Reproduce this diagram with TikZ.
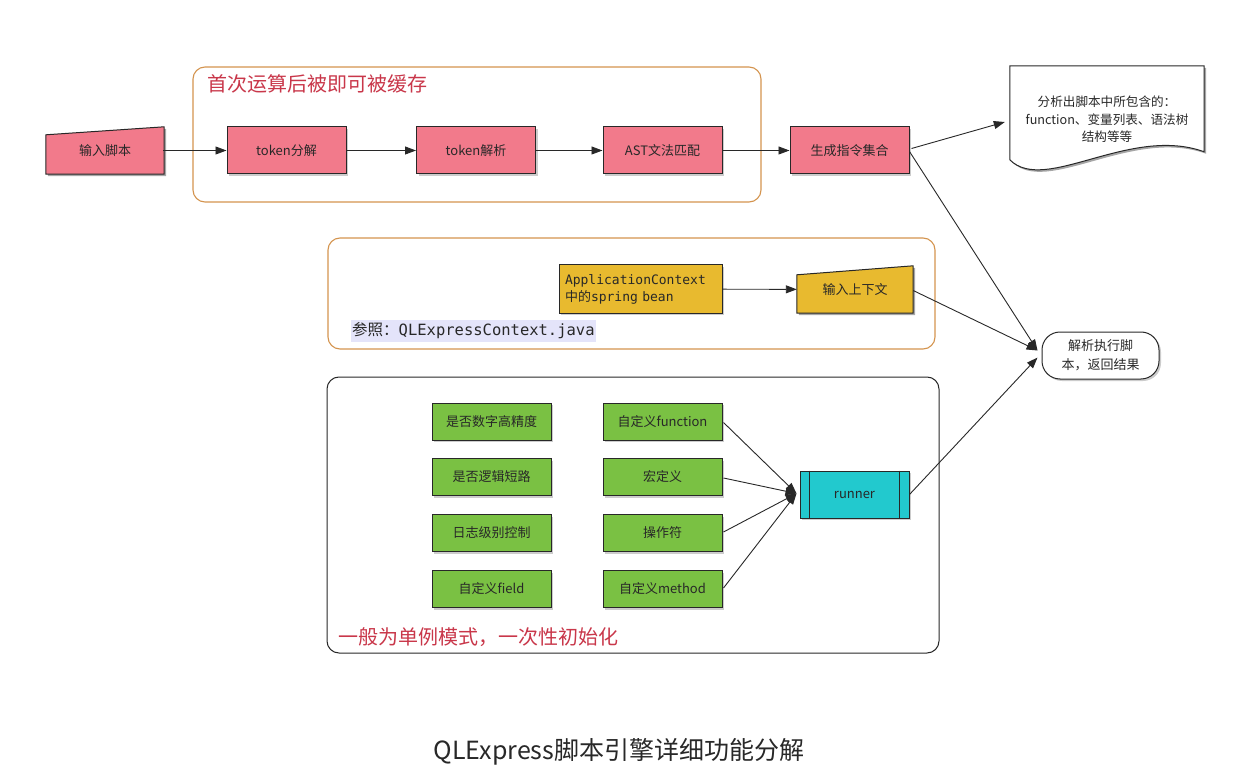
\documentclass[tikz,border=0pt]{standalone}
\usepackage{fontspec}
\setmainfont{Noto Sans CJK SC}
\newfontfamily\monofont{DejaVu Sans Mono}
\usetikzlibrary{arrows.meta,shadows,backgrounds,calc}
\definecolor{pinkc}{RGB}{242,122,139}
\definecolor{greenc}{RGB}{122,193,67}
\definecolor{yellowc}{RGB}{232,186,47}
\definecolor{cyanc}{RGB}{34,201,206}
\definecolor{orangec}{RGB}{212,148,79}
\definecolor{redc}{RGB}{201,55,74}
\definecolor{lavc}{RGB}{228,228,250}
\definecolor{inkc}{RGB}{40,40,40}
\begin{document}
\begin{tikzpicture}[x=1pt,y=-1pt,
  base/.style={draw=inkc,line width=1pt,inner sep=0pt,align=center,
    font=\fontsize{13}{16}\selectfont,text=inkc},
  sh/.style={drop shadow={shadow xshift=2pt,shadow yshift=-2pt,opacity=.4}},
  pinkbox/.style={base,sh,fill=pinkc,minimum width=119pt,minimum height=47pt},
  pinktext/.style={inner sep=0pt,align=center,font=\fontsize{13}{16}\selectfont,
    text=inkc,minimum width=118pt,minimum height=47pt},
  greenbox/.style={base,sh,fill=greenc,minimum width=119pt,minimum height=37pt},
  yellowbox/.style={base,sh,fill=yellowc,minimum height=48pt},
  arr/.style={-{Triangle[length=11pt,width=8pt]},line width=0.9pt,draw=inkc},
  frame/.style={draw=orangec,line width=1.1pt,rounded corners=12pt,inner sep=0pt},
  redtitle/.style={text=redc,font=\fontsize{20}{24}\selectfont,anchor=west,inner sep=0pt}
]
\useasboundingbox (0,0) rectangle (1248,778);

% frames
\node[frame,minimum width=568pt,minimum height=135pt] (topframe) at (477,134.5) {};
\node[frame,minimum width=607pt,minimum height=111pt] (midframe) at (631.5,293.5) {};
\node[frame,draw=inkc,line width=1pt,minimum width=612pt,minimum height=276pt] (botframe) at (633,515) {};

\node[redtitle] (toptitle) at (207,84) {首次运算后被即可被缓存};
\node[redtitle] (bottitle) at (338,637) {一般为单例模式，一次性初始化};

% top row
\node[pinktext] (in) at (105,150.5) {输入脚本};
\node[pinkbox] (t1) at (286.5,150.5) {token分解};
\node[pinkbox] (t2) at (476,150.5) {token解析};
\node[pinkbox] (t3) at (662.5,150.5) {AST文法匹配};
\node[pinkbox] (t4) at (849.5,150.5) {生成指令集合};

% document
\node[inner sep=0pt,minimum width=194pt,minimum height=94pt] (doc) at (1107,113) {};
\node[align=center,inner sep=0pt,text=inkc,font=\fontsize{12.6}{17.5}\selectfont] (doctext) at (1107,119.5)
  {分析出脚本中所包含的：\\function、变量列表、语法树\\结构等等};

% middle
\node[yellowbox,align=left,text width=151pt,inner xsep=6pt,font=\fontsize{13}{17}\selectfont] (appctx) at (640.5,289)
  {{\monofont ApplicationContext}\\中的{\monofont spring bean}};
\node[pinktext,minimum width=116pt] (ctxin) at (855,289.5) {输入上下文};
\node[anchor=west,fill=lavc,inner xsep=1pt,inner ysep=3pt,text=inkc,font=\fontsize{15.5}{18}\selectfont] (ref) at (351,331)
  {参照：{\monofont QLExpressContext.java}};

% result
\node[base,sh,fill=white,rounded corners=18pt,minimum width=117pt,minimum height=47pt,
  font=\fontsize{13}{19}\selectfont] (res) at (1100.5,355.5) {解析执行脚\\本，返回结果};

% green boxes
\node[greenbox] (g1) at (491.5,421.5) {是否数字高精度};
\node[greenbox] (g2) at (491.5,477) {是否逻辑短路};
\node[greenbox] (g3) at (491.5,533) {日志级别控制};
\node[greenbox] (g4) at (491.5,589) {自定义field};
\node[greenbox] (h1) at (662.5,421.5) {自定义function};
\node[greenbox] (h2) at (662.5,477) {宏定义};
\node[greenbox] (h3) at (662.5,533) {操作符};
\node[greenbox] (h4) at (662.5,589) {自定义method};

% runner
\node[base,sh,fill=cyanc,minimum width=109pt,minimum height=47pt] (runner) at (854.5,494.5) {runner};
\draw[inkc,line width=1pt] ($(runner.north west)+(10,0)$) -- ($(runner.south west)+(10,0)$);
\draw[inkc,line width=1pt] ($(runner.north east)+(-10,0)$) -- ($(runner.south east)+(-10,0)$);

% custom shapes on background
\begin{pgfonlayer}{background}
\fill[white] (0,0) rectangle (1248,778);
% input script
\fill[black,opacity=.35] ($(in.south west)+(2,2)$) -- ($(in.south east)+(2,2)$) -- ($(in.north east)+(2,2)$) -- ($(in.north west)+(2,10)$) -- cycle;
\draw[inkc,line width=1pt,fill=pinkc] (in.south west) -- (in.south east) -- (in.north east) -- ($(in.north west)+(0,8)$) -- cycle;
% input context
\fill[black,opacity=.35] ($(ctxin.south west)+(2,2)$) -- ($(ctxin.south east)+(2,2)$) -- ($(ctxin.north east)+(2,2)$) -- ($(ctxin.north west)+(2,11)$) -- cycle;
\draw[inkc,line width=1pt,fill=yellowc] (ctxin.south west) -- (ctxin.south east) -- (ctxin.north east) -- ($(ctxin.north west)+(0,9)$) -- cycle;
% document
\fill[black,opacity=.35] ($(doc.north west)+(2,2)$) -- ($(doc.north east)+(2,2)$) -- ($(doc.north east)+(2,88)$)
  .. controls ($(doc.north west)+(122,61)$) and ($(doc.north west)+(37,131)$) .. ($(doc.north west)+(2,96)$) -- cycle;
\draw[inkc,line width=1pt,fill=white] (doc.north west) -- (doc.north east) -- ($(doc.north east)+(0,86)$)
  .. controls ($(doc.north west)+(120,59)$) and ($(doc.north west)+(35,129)$) .. ($(doc.north west)+(0,94)$) -- cycle;
\end{pgfonlayer}

% connectors
\draw[arr] ($(in.east)+(-1,0)$) -- (t1);
\draw[arr] (t1) -- (t2);
\draw[arr] (t2) -- (t3);
\draw[arr] (t3) -- (t4);
\draw[arr] ($(t4.east)+(2,-2)$) -- ($(doc.west)+(-5,9)$);
\draw[arr] ($(t4.east)+(0,1)$) -- ($(res.west)+(-4,-5)$);
\draw[arr] (appctx) -- (ctxin);
\draw[arr] ($(ctxin.east)+(0,1)$) -- ($(res.west)+(-4,-5)$);
\draw[arr] (runner.east) -- ($(res.west)+(-4,2)$);
\draw[arr] ($(h1.east)+(1,1)$) -- ($(runner.west)+(-3,-1)$);
\draw[arr] ($(h2.east)+(1,1)$) -- ($(runner.west)+(-3,-1)$);
\draw[arr] ($(h3.east)+(1,-1)$) -- ($(runner.west)+(-3,-1)$);
\draw[arr] ($(h4.east)+(1,-1)$) -- ($(runner.west)+(-3,-1)$);

% caption
\node[text=inkc,font=\fontsize{25}{30}\selectfont,inner sep=0pt] (caption) at (619,752) {QLExpress脚本引擎详细功能分解};
\end{tikzpicture}
\end{document}
